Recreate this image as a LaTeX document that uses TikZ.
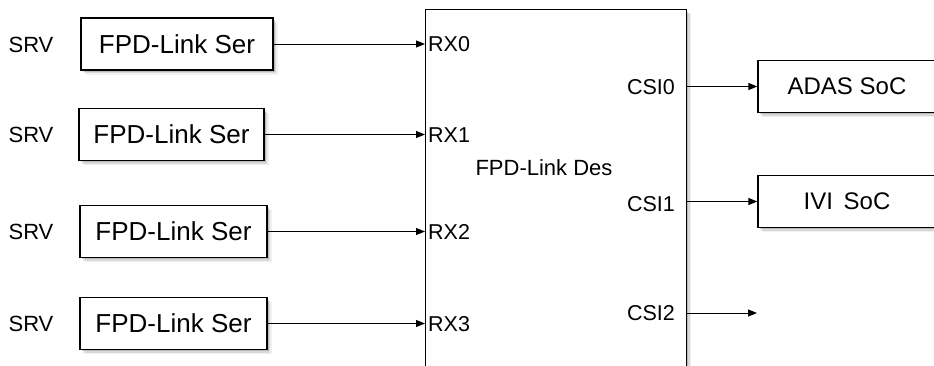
\documentclass[tikz,border=0pt]{standalone}
\usepackage{fontspec}
\setmainfont{Liberation Sans}
\usepackage{tikz}
\usetikzlibrary{arrows.meta,positioning,calc,shadows}

\tikzset{
  soft/.style={
    general shadow={shadow xshift=1.5pt, shadow yshift=-1.5pt, fill=black, opacity=0.14},
    general shadow={shadow xshift=3pt, shadow yshift=-3pt, fill=black, opacity=0.10},
    general shadow={shadow xshift=4.5pt, shadow yshift=-4.5pt, fill=black, opacity=0.06}},
  blk/.style={draw, line width=1.3pt, fill=white, inner sep=0pt, minimum height=52pt, soft},
  link/.style={-{Triangle[length=9pt,width=7pt]}, line width=1pt},
  lbl/.style={inner sep=0pt, font=\fontsize{21.5}{24}\selectfont},
  big/.style={font=\fontsize{26}{30}\selectfont},
}

\begin{document}
\begin{tikzpicture}[x=1pt,y=-1pt]
\useasboundingbox (0,0) rectangle (934,365);
\clip (0,0) rectangle (934,365);
% deserializer
\node[blk, minimum width=261pt, minimum height=420pt, anchor=north west] (des) at (425,9) {};
\node[lbl, font=\fontsize{22}{26}\selectfont] (deslbl) at (544,168) {FPD-Link Des};
% serializers
\node[blk, big, minimum width=192pt] (ser0) at (177,44) {FPD-Link Ser};
\node[blk, big, minimum width=185pt] (ser1) at (171.5,134.5) {FPD-Link Ser};
\node[blk, big, minimum width=187pt] (ser2) at (173.5,231.5) {FPD-Link Ser};
\node[blk, big, minimum width=187pt] (ser3) at (173.5,323.5) {FPD-Link Ser};
\node[lbl, font=\fontsize{22}{26}\selectfont] (srv0) at (31,45) {SRV};
\node[lbl, font=\fontsize{22}{26}\selectfont] (srv1) at (31,135) {SRV};
\node[lbl, font=\fontsize{22}{26}\selectfont] (srv2) at (31,232) {SRV};
\node[lbl, font=\fontsize{22}{26}\selectfont] (srv3) at (31,324) {SRV};
\draw[link] (ser0.east) -- (ser0.east -| des.west);
\draw[link] (ser1.east) -- (ser1.east -| des.west);
\draw[link] (ser2.east) -- (ser2.east -| des.west);
\draw[link] (ser3.east) -- (ser3.east -| des.west);
\node[lbl, anchor=west] (rx0) at (428,44) {RX0};
\node[lbl, anchor=west] (rx1) at (428,135) {RX1};
\node[lbl, anchor=west] (rx2) at (428,232) {RX2};
\node[lbl, anchor=west] (rx3) at (428,324) {RX3};
% SoCs
\node[blk, font=\fontsize{24}{28}\selectfont, minimum width=178pt] (adas) at (847,86.5) {ADAS SoC};
\node[blk, font=\fontsize{24}{28}\selectfont, minimum width=178pt] (ivi) at (847,201.5) {IVI\, SoC};
\node[lbl, anchor=east] (csi0) at (675,87) {CSI0};
\node[lbl, anchor=east] (csi1) at (675,204) {CSI1};
\node[lbl, anchor=east] (csi2) at (675,313) {CSI2};
\coordinate (csi2end) at (757,313);
\draw[link] (des.east |- adas.west) -- (adas.west);
\draw[link] (des.east |- ivi.west) -- (ivi.west);
\draw[link] (des.east |- csi2end) -- (csi2end);
\end{tikzpicture}
\end{document}
